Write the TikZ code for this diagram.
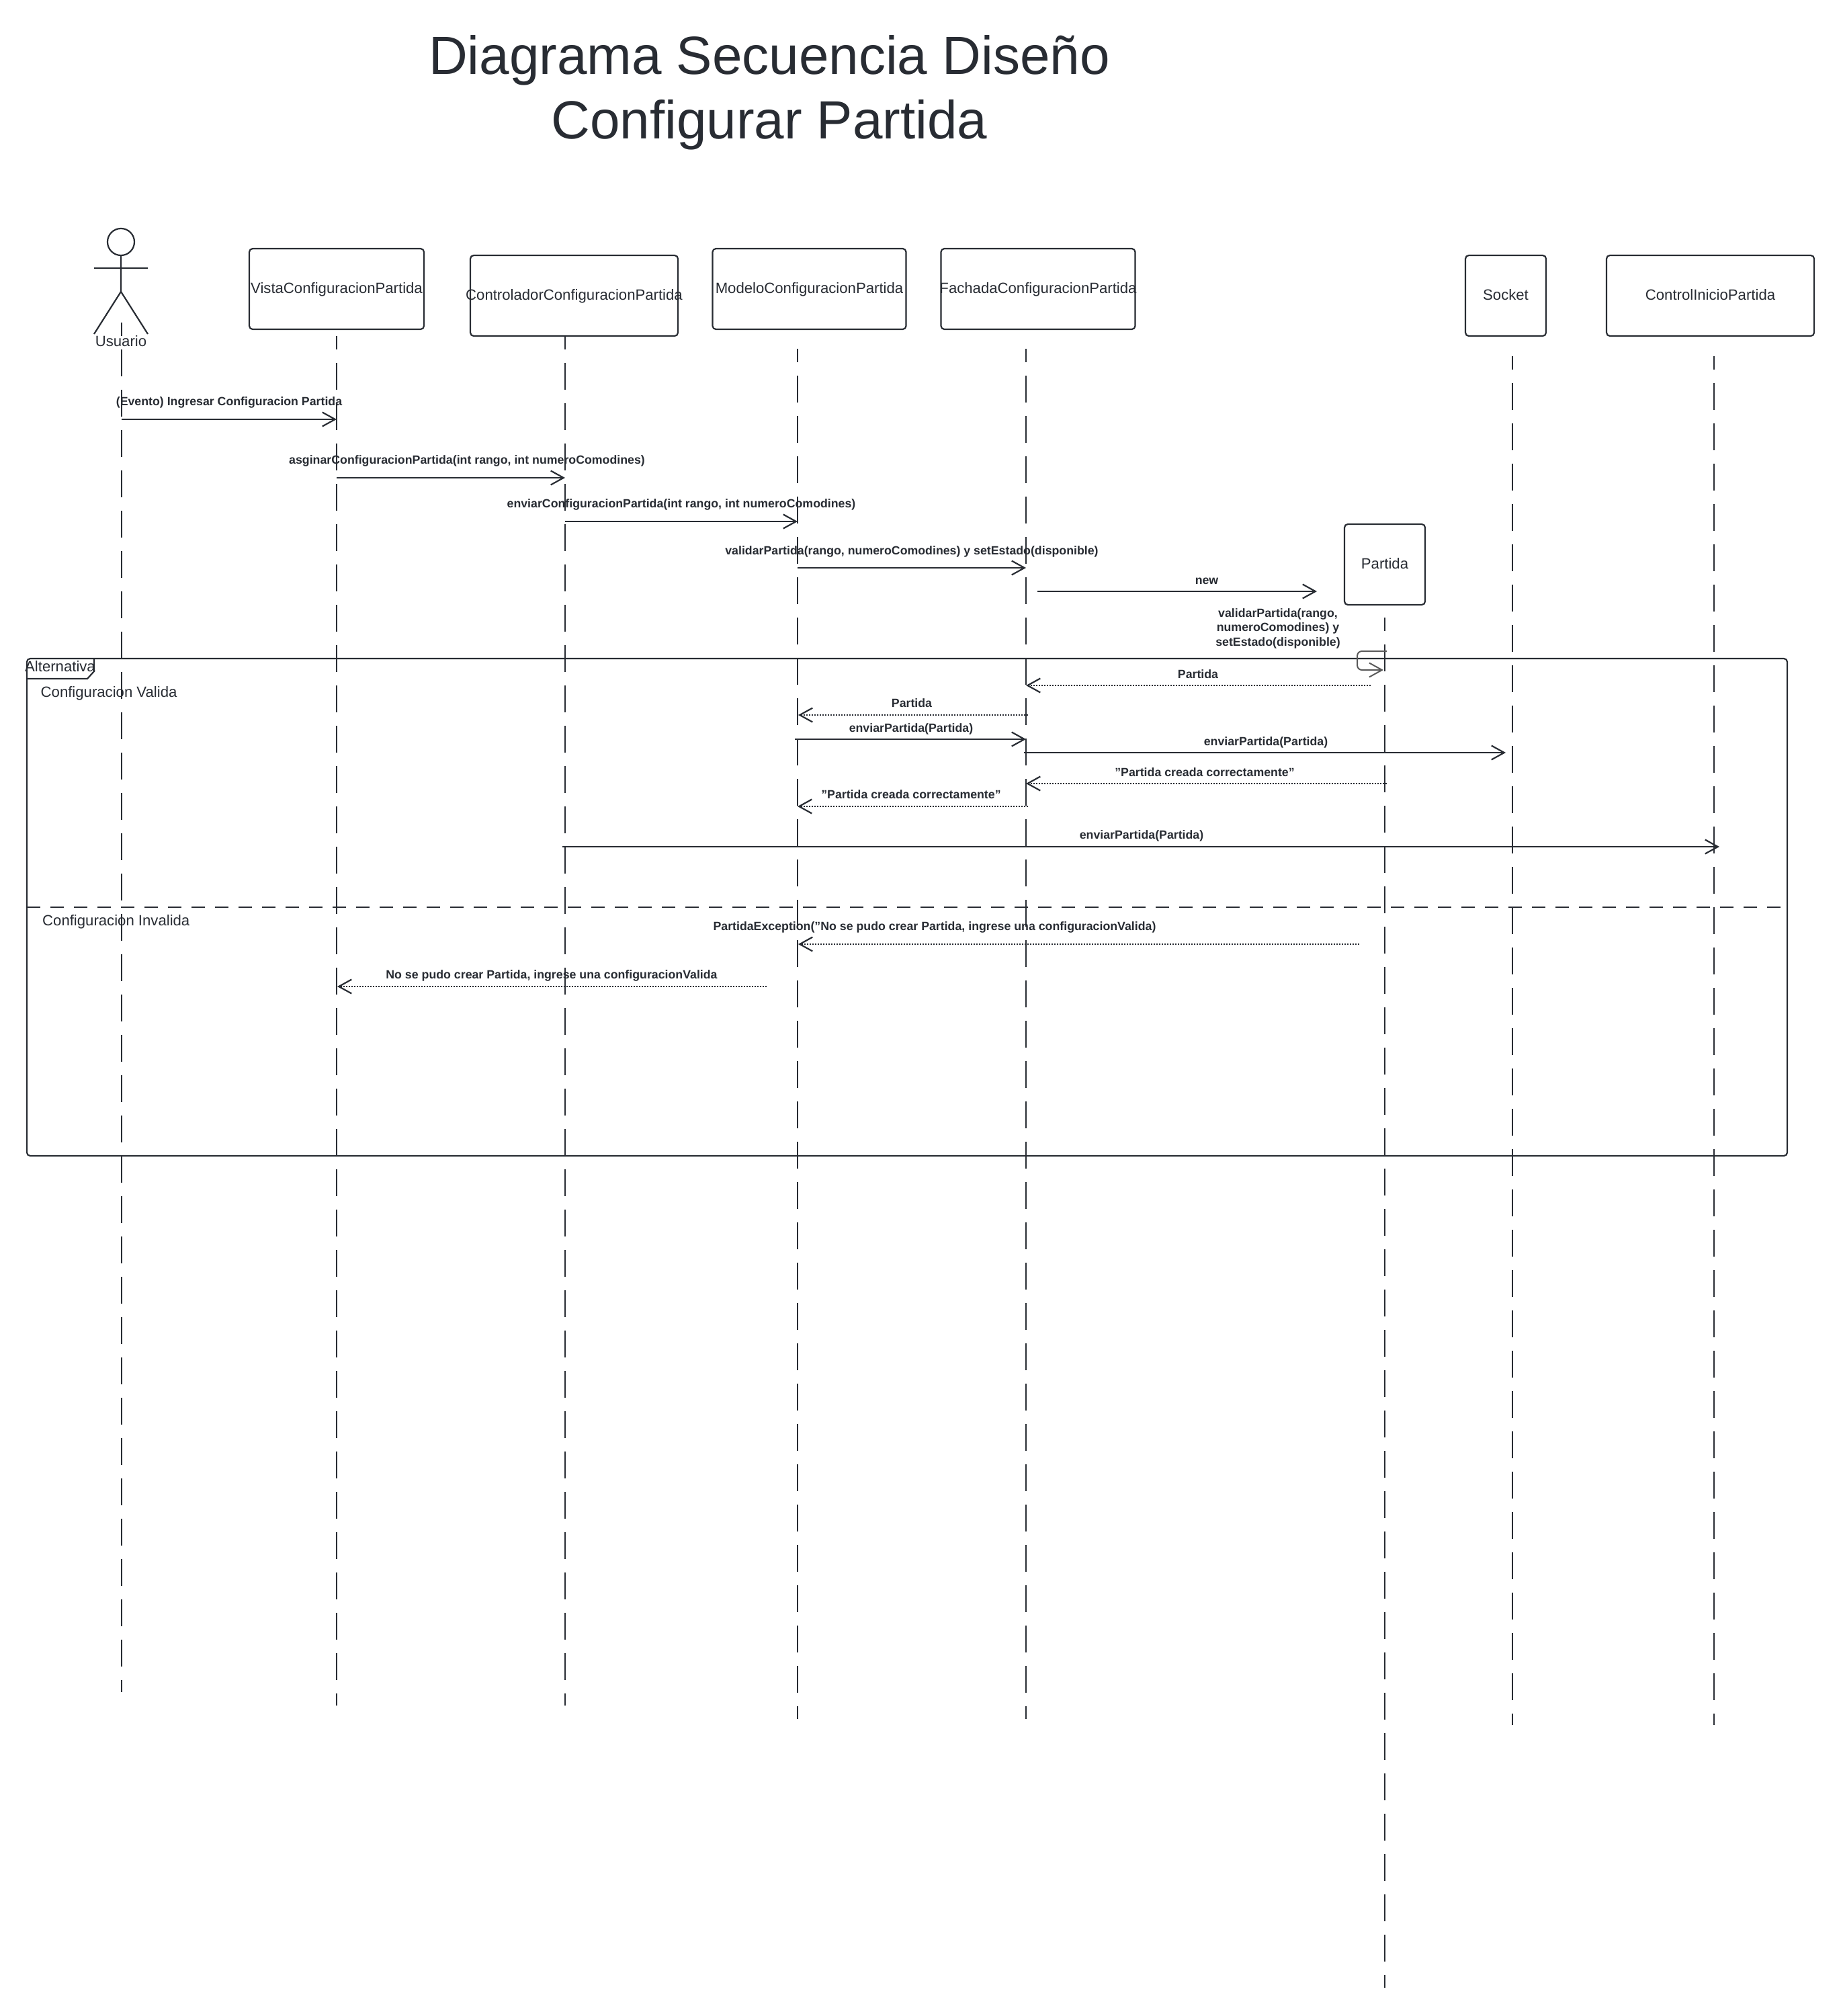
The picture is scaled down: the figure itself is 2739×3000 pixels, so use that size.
\documentclass[tikz,border=0pt]{standalone}
\usepackage{fontspec}
\setmainfont{Liberation Sans}
\usetikzlibrary{arrows.meta, positioning}
\definecolor{inkdark}{HTML}{282C33}
\definecolor{inkgrey}{HTML}{595959}
\newcommand{\overbox}[1]{\makebox[0pt]{#1}}

\begin{document}
\begin{tikzpicture}[
    x=1pt, y=-1pt,
    color=inkdark,
    barb/.tip={Straight Barb[length=19pt, width=21pt, line width=2.2pt]},
    headbox/.style={draw, line width=2.2pt, rounded corners=5pt, font=\fontsize{22.15}{26}\selectfont, inner sep=0pt, text height=17pt, text depth=4pt},
    lifeline/.style={line width=2pt, dash pattern=on 40pt off 20pt, dash phase=20pt},
    msg/.style={line width=2.2pt, -{barb}},
    reply/.style={line width=1.6pt, dash pattern=on 2pt off 2pt, -{barb}},
    msgtext/.style={font=\fontsize{17.75}{21.5}\selectfont\bfseries, inner sep=0pt, align=center, yshift=-2pt},
    fragtext/.style={font=\fontsize{22.15}{26}\selectfont, inner sep=0pt}
]
   \useasboundingbox (0,0) rectangle (2739,3000);

   % Title
   \node[font=\fontsize{80}{96}\selectfont, align=center, inner sep=0pt] (title) at (1145,138) {Diagrama Secuencia Diseño\\Configurar Partida};

   % Actor
   \node[circle, draw, line width=2.2pt, minimum size=40pt, inner sep=0pt] (actorHead) at (180,360) {};
   \coordinate (actorHip) at (180,434);
   \coordinate (armL) at (140,399);
   \coordinate (armR) at (220,399);
   \coordinate (legL) at (140,497);
   \coordinate (legR) at (220,497);
   \draw[line width=2.2pt] (actorHead) -- (actorHip) (armL) -- (armR) (legL) -- (actorHip) -- (legR);
   \node[fragtext] (usuario) at (180,508) {Usuario};

   % Heads
   \node[headbox, minimum width=260pt, minimum height=120pt] (vista) at (501,430) {VistaConfiguracionPartida};
   \node[headbox, minimum width=309pt, minimum height=120pt] (controlador) at (854.5,440) {\overbox{ControladorConfiguracionPartida}};
   \node[headbox, minimum width=288pt, minimum height=120pt] (modelo) at (1204.5,430) {ModeloConfiguracionPartida};
   \node[headbox, minimum width=289pt, minimum height=120pt] (fachada) at (1545,430) {\overbox{FachadaConfiguracionPartida}};
   \node[headbox, minimum width=120pt, minimum height=120pt] (partida) at (2061,840) {Partida};
   \node[headbox, minimum width=120pt, minimum height=120pt] (socket) at (2241,440) {Socket};
   \node[headbox, minimum width=309pt, minimum height=120pt] (inicio) at (2545.5,440) {ControlInicioPartida};

   % Lifelines
   \foreach \n/\x/\ya/\yb in {usuario/181/480/2518, vista/501/500/2538, controlador/841/500/2538, modelo/1187/519/2558, fachada/1527/519/2558, partida/2061/919/2958, socket/2251/530/2567, inicio/2551/530/2567}{
      \coordinate (\n Top) at (\x,\ya);
      \coordinate (\n Bot) at (\x,\yb);
      \draw[lifeline] (\n Top) -- (\n Bot);
   }

   % Frame of the alternative
   \coordinate (frameTL) at (40,980);
   \coordinate (frameBR) at (2660,1720);
   \draw[line width=2.2pt, rounded corners=5pt] (frameTL) rectangle (frameBR);
   \coordinate (tabA) at (140,980);
   \coordinate (tabB) at (140,999);
   \coordinate (tabC) at (130,1010);
   \coordinate (tabD) at (40,1010);
   \draw[line width=2.2pt] (tabA) -- (tabB) -- (tabC) -- (tabD);
   \node[fragtext] (alternativa) at (89.5,992) {Alternativa};
   \node[fragtext, anchor=west] (valida) at (60.5,1032) {Configuracion Valida};
   \coordinate (divL) at (40,1350);
   \coordinate (divR) at (2651,1350);
   \draw[line width=2.2pt, dash pattern=on 20pt off 15pt] (divL) -- (divR);
   \node[fragtext, anchor=west] (invalida) at (63,1372) {Configuracion Invalida};

   % Message ends
   \coordinate (m1a) at (181,624);    \coordinate (m1b) at (501,624);
   \coordinate (m2a) at (501,711);    \coordinate (m2b) at (841,711);
   \coordinate (m3a) at (841,776);    \coordinate (m3b) at (1187,776);
   \coordinate (m4a) at (1187,845);   \coordinate (m4b) at (1527,845);
   \coordinate (m5a) at (1544,880);   \coordinate (m5b) at (1960,880);
   \coordinate (r1a) at (2040,1020);  \coordinate (r1b) at (1527,1020);
   \coordinate (r2a) at (1530,1064);  \coordinate (r2b) at (1188,1064);
   \coordinate (m6a) at (1183,1100);  \coordinate (m6b) at (1527,1100);
   \coordinate (m7a) at (1524,1120);  \coordinate (m7b) at (2241,1120);
   \coordinate (r3a) at (2064,1166);  \coordinate (r3b) at (1527,1166);
   \coordinate (r4a) at (1530,1200);  \coordinate (r4b) at (1187,1200);
   \coordinate (m8a) at (837,1260);   \coordinate (m8b) at (2559,1260);
   \coordinate (r5a) at (2023,1405);  \coordinate (r5b) at (1188,1405);
   \coordinate (r6a) at (1141,1468);  \coordinate (r6b) at (502,1468);

   % Calls
   \path[msg]
   (m1a) edge (m1b)
   (m2a) edge (m2b)
   (m3a) edge (m3b)
   (m4a) edge (m4b)
   (m5a) edge (m5b)
   (m6a) edge (m6b)
   (m7a) edge (m7b)
   (m8a) edge (m8b);

   % Returns
   \path[reply]
   (r1a) edge (r1b)
   (r2a) edge (r2b)
   (r3a) edge (r3b)
   (r4a) edge (r4b)
   (r5a) edge (r5b)
   (r6a) edge (r6b);

   % Self call on Partida
   \coordinate (selfA) at (2064,969);
   \coordinate (selfB) at (2020,969);
   \coordinate (selfC) at (2020,997);
   \coordinate (selfD) at (2059,997);
   \draw[line width=2pt, draw=inkgrey, rounded corners=7pt, -{Straight Barb[length=19pt, width=21pt, line width=2pt]}] (selfA) -- (selfB) -- (selfC) -- (selfD);

   % Labels
   \node[msgtext] (t1) at (341,597) {(Evento) Ingresar Configuracion Partida};
   \node[msgtext] (t2) at (695,684) {asginarConfiguracionPartida(int rango, int numeroComodines)};
   \node[msgtext] (t3) at (1014,749) {enviarConfiguracionPartida(int rango, int numeroComodines)};
   \node[msgtext] (t4) at (1357,819) {validarPartida(rango, numeroComodines) y setEstado(disponible)};
   \node[msgtext] (t5) at (1796,863) {new};
   \node[msgtext] (t6) at (1902,933) {validarPartida(rango,\\numeroComodines) y\\setEstado(disponible)};
   \node[msgtext] (t7) at (1783,1001) {Partida};
   \node[msgtext] (t8) at (1357,1044) {Partida};
   \node[msgtext] (t9) at (1356,1083) {enviarPartida(Partida)};
   \node[msgtext] (t10) at (1884,1103) {enviarPartida(Partida)};
   \node[msgtext] (t11) at (1793,1147) {"Partida creada correctamente"};
   \node[msgtext] (t12) at (1356,1180) {"Partida creada correctamente"};
   \node[msgtext] (t13) at (1699,1242) {enviarPartida(Partida)};
   \node[msgtext] (t14) at (1391,1378) {PartidaException("No se pudo crear Partida, ingrese una configuracionValida)};
   \node[msgtext] (t15) at (821,1450) {No se pudo crear Partida, ingrese una configuracionValida};
\end{tikzpicture}
\end{document}
